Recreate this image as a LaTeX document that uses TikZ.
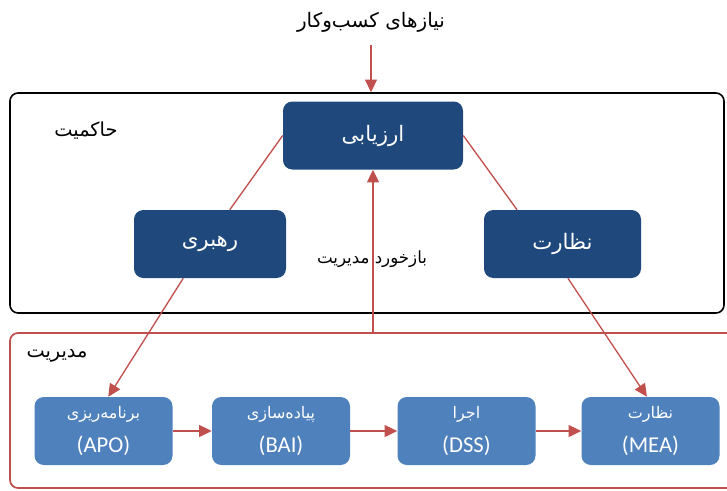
\documentclass[tikz,border=0pt]{standalone}
\usepackage{fontspec}
\setmainfont{Liberation Serif}
\newfontfamily\farsi[Script=Arabic]{DejaVu Sans}
\newfontfamily\latinsans{Carlito}
\TeXXeTstate=1
\usetikzlibrary{arrows.meta}
\definecolor{darkblue}{HTML}{1F497D}
\definecolor{midblue}{HTML}{4F81BD}
\definecolor{linkred}{HTML}{C0504D}
\newcommand{\fa}[1]{{\farsi\beginR #1\endR}}
\begin{document}
\begin{tikzpicture}[x=0.75pt,y=-0.75pt,
	gov_node/.style={rectangle,rounded corners=7pt,fill=darkblue,text=white,minimum height=51pt,font=\farsi\fontsize{16}{18}\selectfont},
	proc_node/.style={rectangle,rounded corners=7pt,fill=midblue,text=white,minimum width=103.5pt,minimum height=51pt,align=center,font=\fontsize{12}{26}\selectfont},
	frame_node/.style={rectangle,rounded corners=6pt},
	link/.style={linkred,line width=1pt},
	tip/.style={-{Triangle[length=9.5pt,width=9pt]}}]
	\clip (0,0) rectangle (727,490);
	
	\node (title) at (371,22) {\fontsize{15}{18}\selectfont\fa{نیازهای کسب‌وکار}};
	
	\node[frame_node,draw=black,line width=1.2pt,minimum width=535.5pt,minimum height=165pt] (gov) at (367,203) {};
	\node[frame_node,draw=linkred,line width=1.3pt,minimum width=547.5pt,minimum height=116.25pt] (mgmt) at (375,410.5) {};
	\node (govlabel) at (86,131) {\fontsize{14.5}{16}\selectfont\fa{حاکمیت}};
	\node (mgmtlabel) at (57,356) {\fontsize{14.5}{16}\selectfont\fa{مدیریت}};
	
	\node[gov_node,minimum width=135pt] (arz) at (373,135.5) {\beginR ارزیابی\endR};
	\node[gov_node,minimum width=114pt] (rah) at (210,244) {\beginR رهبری\endR};
	\node[gov_node,minimum width=117.75pt] (nez) at (562.5,244) {\beginR نظارت\endR};
	
	\node[proc_node] (apo) at (103.5,431) {\fa{برنامه‌ریزی}\\{\latinsans\fontsize{17}{18}\selectfont (APO)}};
	\node[proc_node] (bai) at (281,431) {\fa{پیاده‌سازی}\\{\latinsans\fontsize{17}{18}\selectfont (BAI)}};
	\node[proc_node] (dss) at (466.5,431) {\fa{اجرا}\\{\latinsans\fontsize{17}{18}\selectfont (DSS)}};
	\node[proc_node] (mea) at (650.5,431) {\fa{نظارت}\\{\latinsans\fontsize{17}{18}\selectfont (MEA)}};
	
	\node (feedback) at (372,259) {\fontsize{12.5}{14}\selectfont\fa{بازخورد مدیریت}};
	
	\draw[link,tip,shorten <=6pt] (title.south) -- (title.south |- gov.north);
	\draw[link] (arz.west) -- (rah.60);
	\draw[link] (arz.east) -- (nez.143);
	\draw[link,tip] (rah.232) -- (apo.82);
	\draw[link,tip] (nez.-81) -- (mea.96);
	\draw[link,tip] (arz.south |- mgmt.north) -- (arz.south);
	\draw[link,tip] (apo) -- (bai);
	\draw[link,tip] (bai) -- (dss);
	\draw[link,tip] (dss) -- (mea);
\end{tikzpicture}
\end{document}
